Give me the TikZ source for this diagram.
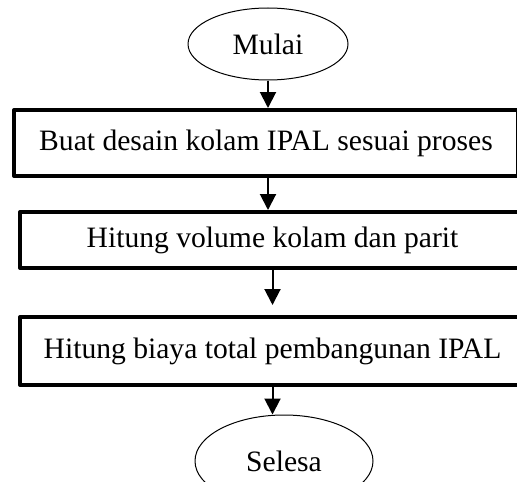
\documentclass[tikz,border=0pt]{standalone}
\usepackage{fontspec}
\setmainfont{Liberation Serif}
\usetikzlibrary{arrows.meta}
\usetikzlibrary{shapes.geometric}

\begin{document}
\begin{tikzpicture}[x=0.5pt, y=-0.5pt,
                font=\fontsize{14.8}{17}\selectfont,
                terminal/.style={ellipse, draw, line width=0.5pt, inner sep=0pt},
                block/.style={rectangle, draw, line width=2pt, line join=round, inner sep=0pt},
                arrow/.style={draw, line width=1pt, -{Triangle[length=8pt, width=8pt]}},
            ]
            \useasboundingbox (0,0) rectangle (517,481);
            \node[terminal, minimum width=80pt, minimum height=36pt] (mulai) at (268,44) {Mulai};
            \node[block, minimum width=252pt, minimum height=33pt] (desain) at (266,143) {Buat desain kolam IPAL sesuai proses};
            \node[block, minimum width=252.5pt, minimum height=28pt] (volume) at (272.5,240) {Hitung volume kolam dan parit};
            \node[block, minimum width=252.5pt, minimum height=34pt] (biaya) at (272.5,351) {Hitung biaya total pembangunan IPAL};
            \node[terminal, minimum width=89pt, minimum height=46pt] (selesa) at (284,461) {Selesa};
            \path[arrow] (mulai) -- (mulai |- desain.north);
            \path[arrow] (desain.south -| mulai) -- (volume.north -| mulai);
            \path[arrow] (volume.south) -- ([yshift=5pt] biaya.north);
            \path[arrow] (biaya.south) -- (biaya.south |- selesa.north);
\end{tikzpicture}
\end{document}
